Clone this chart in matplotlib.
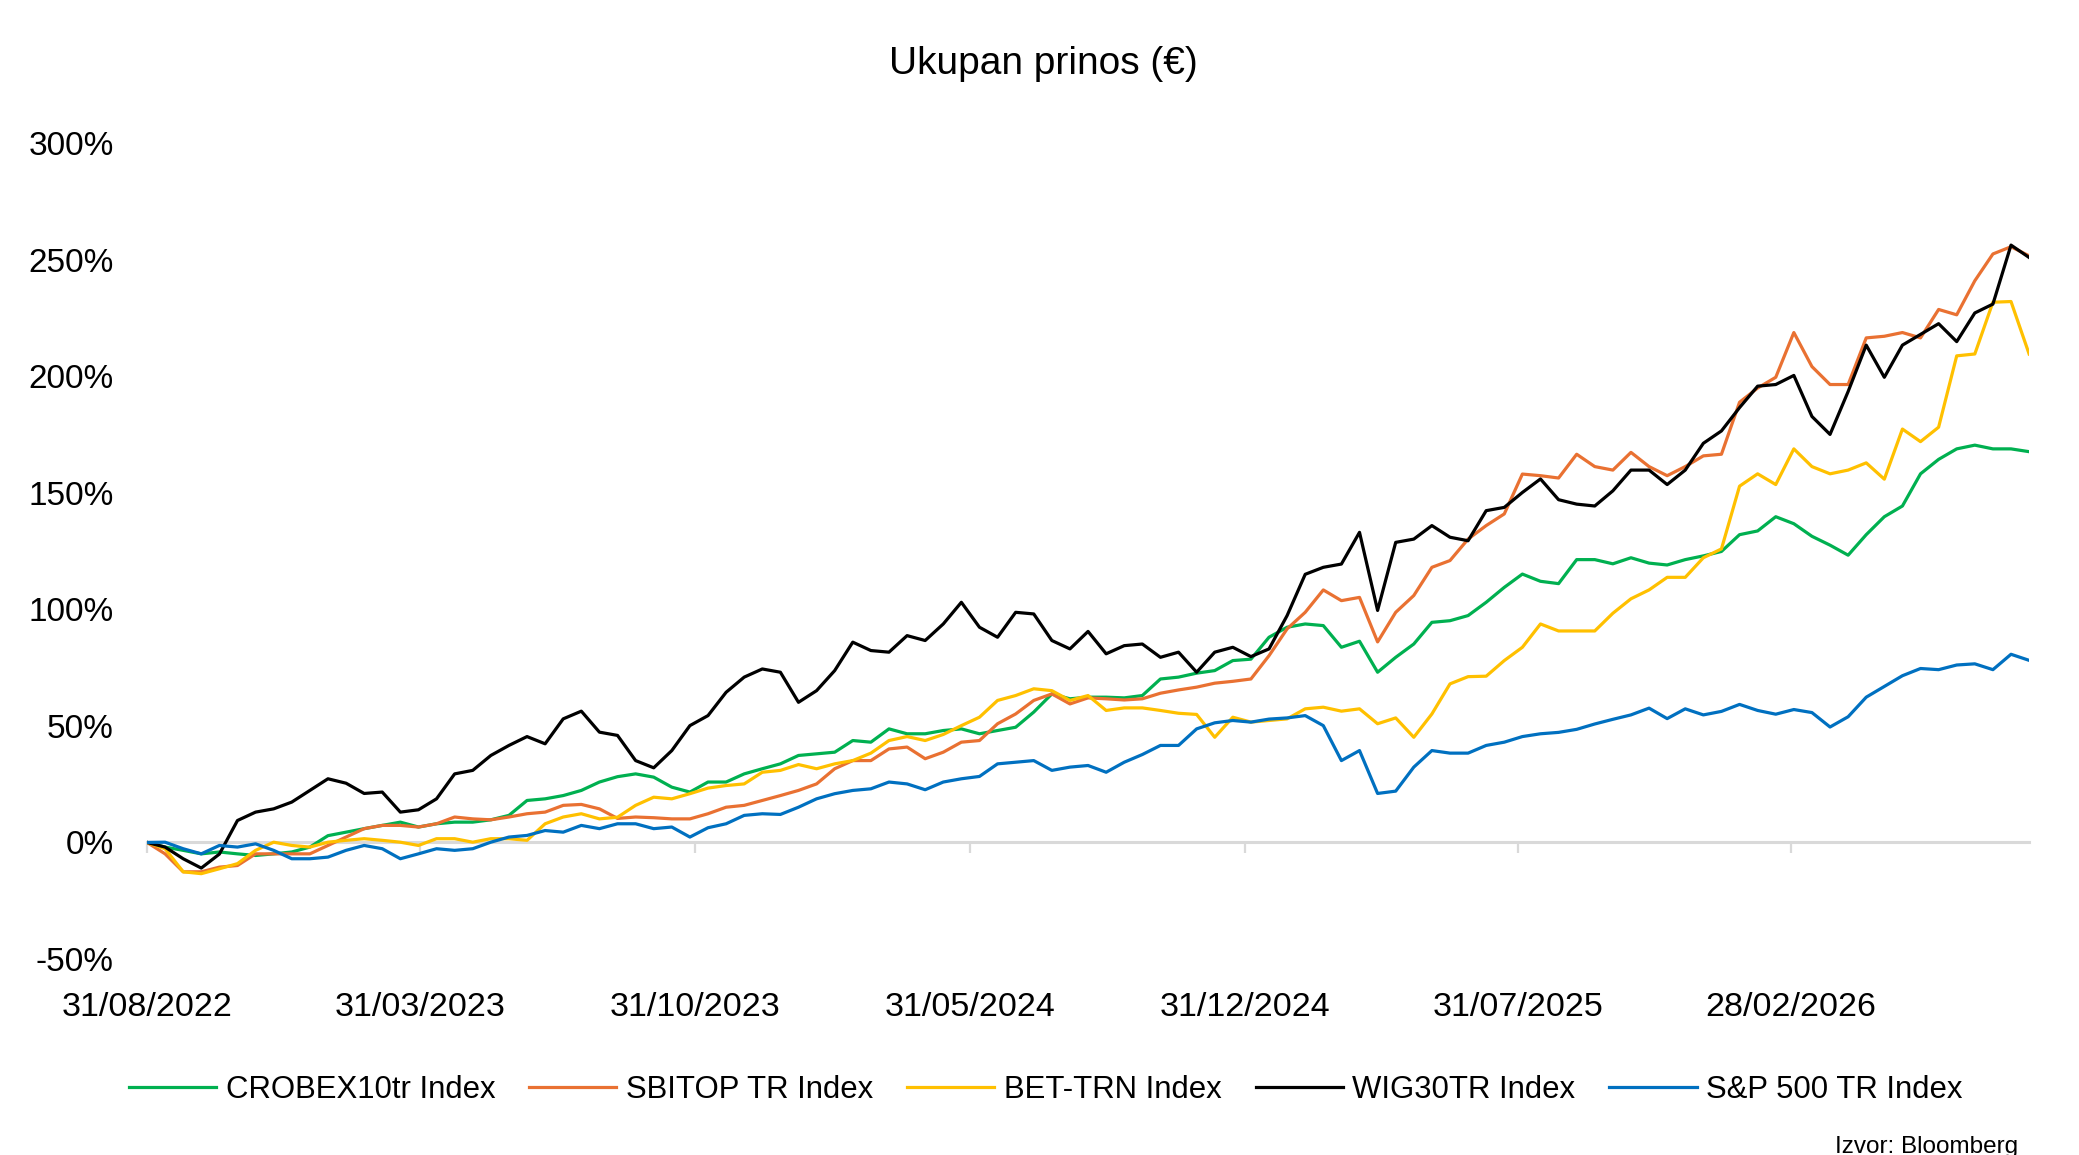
import matplotlib
matplotlib.use("Agg")
import matplotlib.pyplot as plt
import matplotlib.dates as mdates
import pandas as pd

plt.rcParams['font.family'] = ['Liberation Sans', 'DejaVu Sans']

# two-week sampling from 31/08/2022 to the end of the series
dates = pd.date_range('2022-08-31', '2026-09-01', periods=105)

crobex = [0, -2, -3.4, -4.9, -4.1, -4.9, -5.6, -4.9, -4.1, -2, 2.9, 4.4, 5.9, 7.3, 8.7, 6.6, 8, 8.7, 8.7, 9.7,
          11.6, 18, 18.7, 20.1, 22.3, 25.9, 28.2,
          29.4, 28, 23.7, 21.6, 25.9, 25.9, 29.4, 31.6, 33.7, 37.3, 38, 38.7, 43.7, 43, 48.7, 46.6, 46.6, 48, 48.7,
          46.6, 48, 49.4, 55.9, 63.7, 61.6, 62.3,
          62.3, 62, 63, 70.1, 70.9, 72.6, 73.7, 78, 78.6, 88, 92.3, 93.7, 93, 83.7, 86.3, 73, 79.4, 85.1, 94.4,
          95.1, 97.3, 103, 109.4, 115.1, 112, 111,
          121.3, 121.3, 119.5, 122.1, 119.8, 119, 121.3, 122.9, 124.8, 132, 133.6, 139.7, 136.7, 131.3, 127.5,
          123.2, 132, 139.7, 144.3, 158.1, 164.3, 168.8, 170.4, 168.8, 168.8, 167.6]

sbitop = [0, -4.9, -12.6, -12.6, -10.6, -9.9, -4.9, -4.9, -4.9, -4.9, -1.3, 2.3, 5.9, 7.3, 7.3, 6.6, 8, 10.9, 10.1,
          9.7, 10.9, 12.3, 13, 15.9, 16.3, 14.4, 10.3,
          10.9, 10.6, 10.1, 10.1, 12.3, 15.1, 15.9, 18, 20.1, 22.3, 25.1, 31.6, 35.1, 35.1, 40.1, 40.9, 35.9, 38.7,
          43, 43.7, 50.9, 55.1, 60.9, 63.7, 59.4, 62,
          61.6, 61.1, 61.6, 64, 65.4, 66.6, 68.3, 69.1, 70.1, 80.1, 91.6, 98.7, 108.3, 103.7, 105.1, 86, 98.7, 105.9,
          118, 120.9, 130.1, 135.9, 140.9, 158, 157.3, 156.3,
          166.5, 161.2, 159.7, 167.3, 161.2, 157.3, 161.2, 165.8, 166.5, 188.8, 194.9, 199.5, 218.7, 204.1, 196.4,
          196.4, 216.4, 217.1, 218.7, 216.4, 228.6, 226.3, 240.9, 252.4, 255.5, 251.6]

bet = [0, -2.7, -12.6, -13.4, -11.3, -9.1, -3.4, 0.1, -1.3, -2, 0.1, 0.9, 1.6, 0.9, 0.1, -1.3, 1.6, 1.6, 0.1, 1.6,
       1.6, 0.9, 8, 10.9, 12.3, 10.1, 10.8,
       15.9, 19.4, 18.7, 20.9, 23.3, 24.4, 25.1, 30.1, 30.9, 33.4, 31.6, 33.7, 35.1, 38.3, 43.7, 45.4, 43.7, 46.3,
       50.1, 53.7, 60.9, 63, 65.9, 65.1, 60.9, 63,
       56.6, 57.7, 57.7, 56.6, 55.4, 54.9, 45.1, 53.7, 51.6, 52.3, 53, 57.3, 58, 56.3, 57.3, 50.9, 53.4, 45.1, 55.1,
       68, 71.1, 71.3, 78, 83.7, 93.7, 90.7,
       90.7, 90.7, 98.3, 104.5, 108.3, 113.7, 113.7, 122.1, 125.9, 152.8, 158.1, 153.5, 168.8, 161.2, 158.1, 159.7,
       162.8, 155.8, 177.3, 171.9, 178.1, 208.7, 209.5, 231.7, 232, 209.5]

wig30 = [0, -2, -7, -11, -5, 9.4, 13, 14.4, 17.3, 22.3, 27.3, 25.4, 21, 21.6, 13, 14, 18.7, 29.4, 30.9, 37.3,
         41.6, 45.4, 42.3, 53, 56.3, 47.3, 45.9,
         35.1, 32, 39.4, 50.1, 54.4, 64.4, 70.9, 74.4, 73, 60.1, 65.1, 73.7, 85.9, 82.3, 81.6, 88.7, 86.6, 93.7,
         103, 92.3, 88, 98.7, 98, 86.6, 83, 90.5,
         80.9, 84.4, 85.1, 79.4, 81.6, 73, 81.6, 83.7, 79.7, 83, 97.3, 115, 118, 119.4, 133, 99.5, 128.7, 130.1,
         135.9, 130.9, 129.4, 142.3, 143.7, 150.1, 155.9, 147,
         145.1, 144.3, 150.8, 159.7, 159.7, 153.5, 159.7, 171.2, 176.5, 186.5, 195.7, 196.4, 200.3, 182.7, 175,
         193.4, 213.3, 199.5, 213.3, 217.9, 222.5, 214.8, 227.1, 230.9, 256.2, 250.9]

sp500 = [0, 0.1, -2.7, -4.9, -1.3, -2, -0.6, -3.4, -7, -7, -6.3, -3.4, -1.3, -2.7, -7, -4.9, -2.7, -3.4, -2.7, 0.1,
         2.3, 3, 5.1, 4.4, 7.3, 5.9, 8,
         8, 5.9, 6.6, 2.3, 6.3, 8, 11.6, 12.3, 12, 15.1, 18.7, 20.9, 22.3, 23, 25.9, 25.1, 22.6, 25.9, 27.3, 28.3,
         33.7, 34.4, 35.1, 30.9, 32.3, 33,
         30.1, 34.4, 37.7, 41.6, 41.6, 48.7, 51.3, 52.3, 51.6, 52.9, 53.4, 54.4, 50.1, 35.1, 39.4, 21, 22, 32.3,
         39.4, 38.3, 38.3, 41.6, 43, 45.4, 46.6, 47.2,
         48.5, 50.8, 52.8, 54.7, 57.6, 53.1, 57.3, 54.7, 56.2, 59.2, 56.6, 55, 57, 55.7, 49.5, 53.9, 62.3, 66.9,
         71.5, 74.6, 74.1, 76.1, 76.6, 74.1, 80.7, 78.1]

names = ['CROBEX10tr Index', 'SBITOP TR Index', 'BET-TRN Index', 'WIG30TR Index', 'S&P 500 TR Index']
colors = ['#00B050', '#E97132', '#FFC000', '#000000', '#0070C0']
tick_dates = ['2022-08-31', '2023-03-31', '2023-10-31', '2024-05-31', '2024-12-31', '2025-07-31', '2026-02-28']

fig = plt.figure(figsize=(20.79, 11.55), dpi=100)
ax = fig.add_axes([0.0707, 0.1697, 0.9053, 0.7065])

for series, name, col in zip([crobex, sbitop, bet, wig30, sp500], names, colors):
    ax.plot(dates, series, color=col, lw=2.3, label=name, solid_joinstyle='round')

ax.set_ylim(-50, 300)
ax.set_yticks(range(-50, 301, 50))
ax.set_yticklabels([f'{v}%' for v in range(-50, 301, 50)])
ax.set_xlim(dates[0], dates[-1])
ax.set_xticks(pd.to_datetime(tick_dates))
ax.xaxis.set_major_formatter(mdates.DateFormatter('%d/%m/%Y'))

for s in ['top', 'right', 'left']:
    ax.spines[s].set_visible(False)
ax.spines['bottom'].set_position(('data', 0))
ax.spines['bottom'].set_color('#D9D9D9')
ax.spines['bottom'].set_linewidth(2.2)
ax.spines['bottom'].set_zorder(0.5)

ax.tick_params(axis='x', direction='out', length=8, width=1.6, color='#D9D9D9',
               labelsize=24.5, pad=100, labelcolor='black')
ax.tick_params(axis='y', length=0, labelsize=24, pad=24, labelcolor='black')

fig.text(0.502, 0.945, 'Ukupan prinos (€)', ha='center', va='center', fontsize=28)

fig.legend(loc='center', bbox_to_anchor=(0.503, 0.0563), ncol=5, frameon=False, fontsize=22.4,
           handlelength=2.8, handletextpad=0.3, columnspacing=1.1)

fig.text(0.9707, 0.0017, 'Izvor: Bloomberg', ha='right', va='baseline', fontsize=17.5)

fig.savefig('out.png', dpi=100)
